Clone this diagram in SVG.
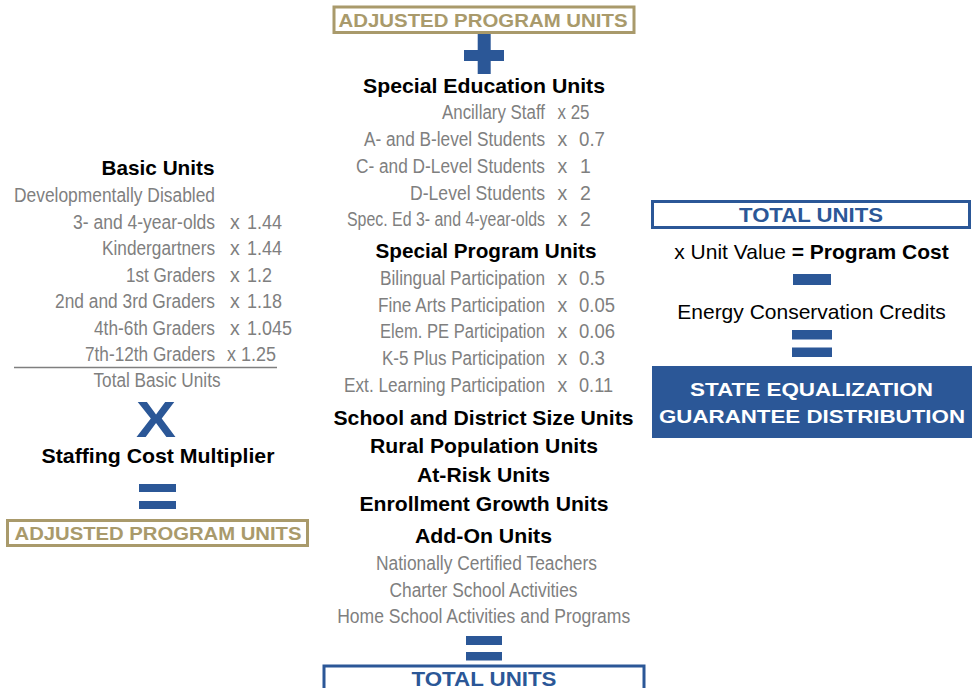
<svg xmlns="http://www.w3.org/2000/svg" width="978" height="688" viewBox="0 0 978 688">
<style>
.b{font-family:"Liberation Sans",Arial,sans-serif;font-weight:bold;font-size:21px;fill:#000;text-anchor:middle}
.g{font-family:"Liberation Sans",Arial,sans-serif;font-size:19.5px;fill:#7f7f7f}
.m{text-anchor:middle}
.gold{font-family:"Liberation Sans",Arial,sans-serif;font-weight:bold;font-size:19px;fill:#a99a6b;text-anchor:middle}
.blu{font-family:"Liberation Sans",Arial,sans-serif;font-weight:bold;font-size:20px;fill:#2b5797;text-anchor:middle}
.wht{font-family:"Liberation Sans",Arial,sans-serif;font-weight:bold;font-size:19px;fill:#fff;text-anchor:middle}
.n{font-family:"Liberation Sans",Arial,sans-serif;font-size:21px;fill:#000;text-anchor:middle}
.gbox{fill:none;stroke:#a99a6b;stroke-width:3}
.bbox{fill:none;stroke:#2b5797;stroke-width:3}
.op{fill:#2b5797}
</style>
<rect width="978" height="688" fill="#fff"/>

<g id="left-basic-units">
<text class="b" x="158" y="175" textLength="113" lengthAdjust="spacingAndGlyphs">Basic Units</text>
<text class="g" x="14" y="202" textLength="201" lengthAdjust="spacingAndGlyphs">Developmentally Disabled</text>
<text class="g" y="228.5"><tspan x="73" textLength="142" lengthAdjust="spacingAndGlyphs">3- and 4-year-olds</tspan><tspan x="230">x</tspan><tspan x="247" textLength="35" lengthAdjust="spacingAndGlyphs">1.44</tspan></text>
<text class="g" y="255"><tspan x="102" textLength="113" lengthAdjust="spacingAndGlyphs">Kindergartners</tspan><tspan x="230">x</tspan><tspan x="247" textLength="35" lengthAdjust="spacingAndGlyphs">1.44</tspan></text>
<text class="g" y="281.5"><tspan x="126" textLength="89" lengthAdjust="spacingAndGlyphs">1st Graders</tspan><tspan x="230">x</tspan><tspan x="247" textLength="25" lengthAdjust="spacingAndGlyphs">1.2</tspan></text>
<text class="g" y="308"><tspan x="55" textLength="160" lengthAdjust="spacingAndGlyphs">2nd and 3rd Graders</tspan><tspan x="230">x</tspan><tspan x="247" textLength="35" lengthAdjust="spacingAndGlyphs">1.18</tspan></text>
<text class="g" y="334.5"><tspan x="94" textLength="121" lengthAdjust="spacingAndGlyphs">4th-6th Graders</tspan><tspan x="230">x</tspan><tspan x="247" textLength="45" lengthAdjust="spacingAndGlyphs">1.045</tspan></text>
<text class="g" y="361"><tspan x="85" textLength="130" lengthAdjust="spacingAndGlyphs">7th-12th Graders</tspan><tspan x="227" textLength="49" lengthAdjust="spacingAndGlyphs">x 1.25</tspan></text>
<line x1="14" y1="367.5" x2="277" y2="367.5" stroke="#7f7f7f" stroke-width="1.5"/>
<text class="g m" x="157" y="387" textLength="127" lengthAdjust="spacingAndGlyphs">Total Basic Units</text>
</g>

<g id="left-multiplier">
<text x="156" y="437" font-family="'Liberation Sans',Arial,sans-serif" font-weight="bold" font-size="50" fill="#2b5797" text-anchor="middle" textLength="40" lengthAdjust="spacingAndGlyphs">X</text>
<text class="b" x="158" y="463" textLength="233" lengthAdjust="spacingAndGlyphs">Staffing Cost Multiplier</text>
</g>

<g id="left-adjusted">
<rect class="gbox" x="7.5" y="520.5" width="300" height="25"/>
<text class="gold" x="158" y="540" textLength="287" lengthAdjust="spacingAndGlyphs">ADJUSTED PROGRAM UNITS</text>
</g>

<g id="top-adjusted">
<rect class="gbox" x="334" y="7" width="300" height="25.5"/>
<text class="gold" x="483" y="27" textLength="289" lengthAdjust="spacingAndGlyphs">ADJUSTED PROGRAM UNITS</text>
</g>

<g id="special-education">
<text class="b" x="484" y="93" textLength="242" lengthAdjust="spacingAndGlyphs">Special Education Units</text>
<text class="g" y="119"><tspan x="442" textLength="103" lengthAdjust="spacingAndGlyphs">Ancillary Staff</tspan><tspan x="557.5" textLength="32" lengthAdjust="spacingAndGlyphs">x 25</tspan></text>
<text class="g" y="146"><tspan x="364" textLength="181" lengthAdjust="spacingAndGlyphs">A- and B-level Students</tspan><tspan x="557.5">x</tspan><tspan x="579" textLength="26" lengthAdjust="spacingAndGlyphs">0.7</tspan></text>
<text class="g" y="173"><tspan x="356" textLength="189" lengthAdjust="spacingAndGlyphs">C- and D-Level Students</tspan><tspan x="557.5">x</tspan><tspan x="580">1</tspan></text>
<text class="g" y="199.5"><tspan x="410" textLength="135" lengthAdjust="spacingAndGlyphs">D-Level Students</tspan><tspan x="557.5">x</tspan><tspan x="580">2</tspan></text>
<text class="g" y="226"><tspan x="347" textLength="198" lengthAdjust="spacingAndGlyphs">Spec. Ed 3- and 4-year-olds</tspan><tspan x="557.5">x</tspan><tspan x="580">2</tspan></text>
</g>

<g id="special-program">
<text class="b" x="486" y="258" textLength="221" lengthAdjust="spacingAndGlyphs">Special Program Units</text>
<text class="g" y="285"><tspan x="380" textLength="165" lengthAdjust="spacingAndGlyphs">Bilingual Participation</tspan><tspan x="557.5">x</tspan><tspan x="579" textLength="26" lengthAdjust="spacingAndGlyphs">0.5</tspan></text>
<text class="g" y="311.7"><tspan x="378" textLength="167" lengthAdjust="spacingAndGlyphs">Fine Arts Participation</tspan><tspan x="557.5">x</tspan><tspan x="579" textLength="36" lengthAdjust="spacingAndGlyphs">0.05</tspan></text>
<text class="g" y="338.3"><tspan x="380" textLength="165" lengthAdjust="spacingAndGlyphs">Elem. PE Participation</tspan><tspan x="557.5">x</tspan><tspan x="579" textLength="36" lengthAdjust="spacingAndGlyphs">0.06</tspan></text>
<text class="g" y="365"><tspan x="382" textLength="163" lengthAdjust="spacingAndGlyphs">K-5 Plus Participation</tspan><tspan x="557.5">x</tspan><tspan x="579" textLength="26" lengthAdjust="spacingAndGlyphs">0.3</tspan></text>
<text class="g" y="392.3"><tspan x="344" textLength="201" lengthAdjust="spacingAndGlyphs">Ext. Learning Participation</tspan><tspan x="557.5">x</tspan><tspan x="579" textLength="34" lengthAdjust="spacingAndGlyphs">0.11</tspan></text>
</g>

<g id="other-units">
<text class="b" x="483.5" y="425" textLength="300" lengthAdjust="spacingAndGlyphs">School and District Size Units</text>
<text class="b" x="484" y="453.3" textLength="228" lengthAdjust="spacingAndGlyphs">Rural Population Units</text>
<text class="b" x="483.5" y="481.7" textLength="133" lengthAdjust="spacingAndGlyphs">At-Risk Units</text>
<text class="b" x="484" y="511" textLength="249" lengthAdjust="spacingAndGlyphs">Enrollment Growth Units</text>
</g>

<g id="add-on-units">
<text class="b" x="483.5" y="542.7" textLength="137" lengthAdjust="spacingAndGlyphs">Add-On Units</text>
<text class="g m" x="486.5" y="570" textLength="221" lengthAdjust="spacingAndGlyphs">Nationally Certified Teachers</text>
<text class="g m" x="483.5" y="596.7" textLength="188" lengthAdjust="spacingAndGlyphs">Charter School Activities</text>
<text class="g m" x="483.7" y="622.7" textLength="293" lengthAdjust="spacingAndGlyphs">Home School Activities and Programs</text>
</g>

<g id="center-total">
<rect class="bbox" x="324" y="666" width="320" height="30"/>
<text class="blu" x="484" y="686" textLength="145" lengthAdjust="spacingAndGlyphs">TOTAL UNITS</text>
</g>

<g id="right-total">
<rect class="bbox" x="652.5" y="201.5" width="317" height="26"/>
<text class="blu" x="811" y="221.7" textLength="144" lengthAdjust="spacingAndGlyphs">TOTAL UNITS</text>
</g>

<g id="program-cost">
<text class="n" x="811.5" y="258.5">x Unit Value <tspan font-weight="bold">= Program Cost</tspan></text>
</g>

<g id="energy-credits">
<text class="n" x="811.5" y="318.5">Energy Conservation Credits</text>
</g>

<g id="state-equalization">
<rect x="652" y="366" width="320" height="72" fill="#2b5797"/>
<text class="wht" x="811.5" y="396" textLength="243" lengthAdjust="spacingAndGlyphs">STATE EQUALIZATION</text>
<text class="wht" x="812" y="423" textLength="306" lengthAdjust="spacingAndGlyphs">GUARANTEE DISTRIBUTION</text>
</g>

<g id="connectors">
<rect class="op" x="477.7" y="34" width="13" height="40"/>
<rect class="op" x="464" y="50" width="40" height="11"/>
<rect class="op" x="139" y="484" width="37" height="8"/>
<rect class="op" x="139" y="501" width="37" height="8"/>
<rect class="op" x="466" y="636" width="36" height="9"/>
<rect class="op" x="466" y="652" width="36" height="8.5"/>
<rect class="op" x="793" y="274" width="38" height="11"/>
<rect class="op" x="792" y="330" width="40" height="9.5"/>
<rect class="op" x="792" y="347.5" width="40" height="9.5"/>
</g>
</svg>
